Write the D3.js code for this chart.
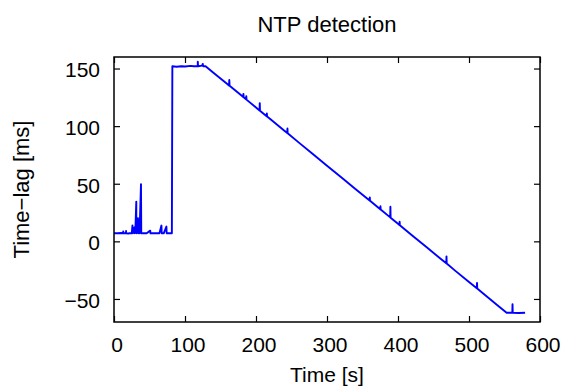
<!DOCTYPE html>
<html><head><meta charset="utf-8">
<script src="https://cdn.jsdelivr.net/npm/d3@7"></script>
<style>
body{margin:0;background:#fff;}
svg text{font-family:"Liberation Sans",Arial,sans-serif;fill:#000;}
</style></head>
<body><svg id="c" width="562" height="387"></svg>
<script>
const title = "NTP detection";
const xLabel = "Time [s]";
const yLabel = "Time\u2212lag [ms]";
const xTicks = [0, 100, 200, 300, 400, 500, 600];
const yTicks = [-50, 0, 50, 100, 150];
const xDomain = [0, 600];
const yDomain = [-70, 160];
// [time s, lag ms]
const series = [
 [0,7],[5,7],[10,7.2],[13,7],[13,8.5],[13,7],[17,7],[17,9],[17,7],[20,6.8],[22,7],
 [25,7],[26,13.7],[26,7],[27,8],[28.6,12],[28.6,7],[30,7.5],[31.4,34.5],[31.4,7],
 [33.2,8],[33.8,20],[34.2,7],[36,9],[36,7],[38,49.5],[38.4,7],[42,7],[46,7],
 [51,9.3],[51.4,7],[56,7],[60,7],[64,7],[66.8,13.7],[67.2,7],[70,7],[73.8,12.8],
 [74.2,7],[78,7],[81.5,7],[82.2,152],[88,151.5],[95,152],[100,151.8],[108,152.3],
 [112,152],[118,152],[118,156],[118.4,152],[124,152.5],[125,154],[125.4,152],[129,152],
 [140,146.4],[160,136.4],[162,135.3],[162.4,140],[162.8,135],[180,126.3],[182,125.3],
 [182.3,128],[182.6,125],[186,123.3],[186.3,126],[186.6,123],[200,116.2],[205,113.6],
 [205.3,120],[205.6,113.4],[215,108.6],[215.3,111],[215.6,108.3],[220,106.1],[240,96.0],
 [244,94.0],[244.3,98],[244.6,93.8],[260,85.9],[280,75.8],[300,65.7],[320,55.6],
 [340,45.5],[360,35.4],[360.3,38],[360.6,35.2],[375,27.8],[375.3,30.5],[375.6,27.6],
 [389,20.8],[389.3,30],[389.6,20.5],[400,15.2],[402,14.2],[402.3,17],[402.6,14],
 [420,5.1],[440,-5.0],[460,-15.1],[468,-19.1],[468.3,-13],[468.6,-19.3],[480,-25.2],
 [500,-35.3],[511,-40.8],[511.3,-36],[511.6,-41],[520,-45.3],[540,-55.4],[553,-62],
 [561,-62],[561.3,-54.5],[561.6,-62],[570,-62.2],[579,-62]
];

const W = 562, H = 387;
const m = {l:114, r:22, t:57, b:65};
const svg = d3.select("#c");
const x = d3.scaleLinear().domain(xDomain).range([m.l, W - m.r]);
const y = d3.scaleLinear().domain(yDomain).range([H - m.b, m.t]);
const tl = 6;
const fs = 21;
const style = g => {g.select(".domain").remove();
  g.selectAll("line").attr("stroke","#000").attr("stroke-width",1.2);
  g.selectAll("text").attr("font-size",fs).attr("font-family","Liberation Sans, Arial, sans-serif");};

svg.append("g").attr("transform",`translate(0,${H-m.b})`)
  .call(d3.axisBottom(x).tickValues(xTicks).tickSizeInner(-tl).tickSizeOuter(0).tickPadding(15).tickFormat(d3.format("d")))
  .call(style).call(g=>g.selectAll("text").attr("dx",2.5));
svg.append("g").attr("transform",`translate(0,${m.t})`)
  .call(d3.axisTop(x).tickValues(xTicks).tickSizeInner(-tl).tickSizeOuter(0).tickFormat(""))
  .call(style);
svg.append("g").attr("transform",`translate(${m.l},0)`)
  .call(d3.axisLeft(y).tickValues(yTicks).tickSizeInner(-tl).tickSizeOuter(0).tickPadding(14)
     .tickFormat(d=> d<0 ? "\u2212"+Math.abs(d) : d))
  .call(style).call(g=>g.selectAll("text").attr("dy","0.4em"));
svg.append("g").attr("transform",`translate(${W-m.r},0)`)
  .call(d3.axisRight(y).tickValues(yTicks).tickSizeInner(-tl).tickSizeOuter(0).tickFormat(""))
  .call(style);

svg.append("clipPath").attr("id","pc").append("rect")
  .attr("x",m.l).attr("y",m.t).attr("width",W-m.l-m.r).attr("height",H-m.t-m.b);
svg.append("path").datum(series)
  .attr("clip-path","url(#pc)")
  .attr("fill","none").attr("stroke","#0000ff").attr("stroke-width",1.9).attr("stroke-linejoin","round")
  .attr("d", d3.line().x(d=>x(d[0])).y(d=>y(d[1])));

svg.append("rect").attr("x",m.l).attr("y",m.t).attr("width",W-m.l-m.r).attr("height",H-m.t-m.b)
  .attr("fill","none").attr("stroke","#000").attr("stroke-width",1.5);

svg.append("text").attr("x",(m.l+W-m.r)/2).attr("y",32).attr("text-anchor","middle").attr("font-size",22).text(title);
svg.append("text").attr("x",(m.l+W-m.r)/2).attr("y",382).attr("text-anchor","middle").attr("font-size",21).text(xLabel);
svg.append("text").attr("transform",`translate(29,${(m.t+H-m.b)/2}) rotate(-90)`).attr("text-anchor","middle").attr("font-size",22).text(yLabel);
</script></body></html>
